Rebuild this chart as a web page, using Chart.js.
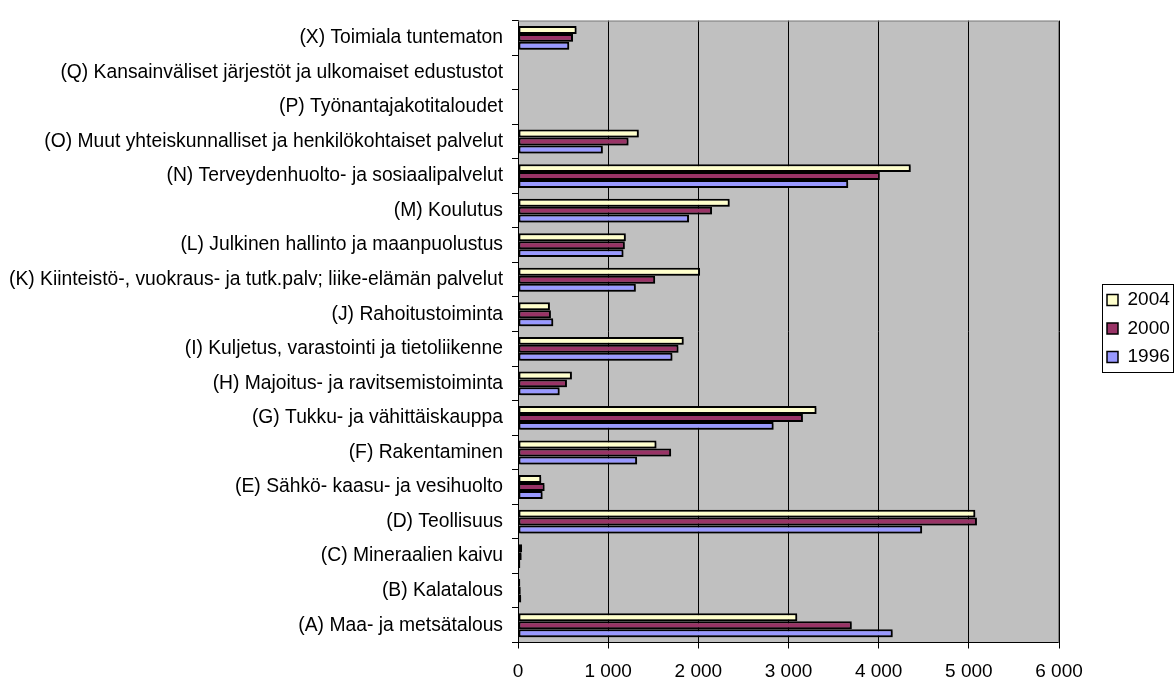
<!DOCTYPE html>
<html>
<head>
<meta charset="utf-8">
<script src="https://cdn.jsdelivr.net/npm/chart.js@4/dist/chart.umd.min.js"></script>
<style>
  html, body { margin: 0; padding: 0; background: #ffffff; }
  #wrap { width: 1176px; height: 681px; position: relative; }
</style>
</head>
<body>
<div id="wrap"><canvas id="c" width="1176" height="681"></canvas></div>
<script>
const categories = [
  "(X) Toimiala tuntematon",
  "(Q) Kansainväliset järjestöt ja ulkomaiset edustustot",
  "(P) Työnantajakotitaloudet",
  "(O) Muut yhteiskunnalliset ja henkilökohtaiset palvelut",
  "(N) Terveydenhuolto- ja sosiaalipalvelut",
  "(M) Koulutus",
  "(L) Julkinen hallinto ja maanpuolustus",
  "(K) Kiinteistö-, vuokraus- ja tutk.palv; liike-elämän palvelut",
  "(J) Rahoitustoiminta",
  "(I) Kuljetus, varastointi ja tietoliikenne",
  "(H) Majoitus- ja ravitsemistoiminta",
  "(G) Tukku- ja vähittäiskauppa",
  "(F) Rakentaminen",
  "(E) Sähkö- kaasu- ja vesihuolto",
  "(D) Teollisuus",
  "(C) Mineraalien kaivu",
  "(B) Kalatalous",
  "(A) Maa- ja metsätalous"
];
const seriesNames = ["2004", "2000", "1996"];
const values2004 = [650, 0, 0, 1340, 4356, 2348, 1196, 2019, 354, 1838, 598, 3311, 1536, 258, 5072, 45, 25, 3097];
const values2000 = [610, 0, 0, 1226, 4013, 2152, 1185, 1521, 365, 1780, 543, 3160, 1698, 295, 5090, 40, 30, 3702];
const values1996 = [568, 0, 0, 941, 3662, 1897, 1170, 1307, 391, 1713, 462, 2835, 1321, 273, 4482, 25, 35, 4156];
const xTicks = [0, 1000, 2000, 3000, 4000, 5000, 6000];

const FONT = "'Liberation Sans', Arial, sans-serif";
const colors = ["#FFFFCC", "#993366", "#9999FF"];

const plotBg = {
  id: 'plotBg',
  beforeDraw(chart) {
    const {ctx, chartArea: a} = chart;
    ctx.save();
    ctx.fillStyle = '#C0C0C0';
    ctx.fillRect(a.left, a.top, a.right - a.left, a.bottom - a.top);
    ctx.restore();
  },
  afterDatasetsDraw(chart) {
    const {ctx, chartArea: a} = chart;
    ctx.save();
    ctx.strokeStyle = '#808080';
    ctx.lineWidth = 1;
    ctx.beginPath();
    ctx.moveTo(a.left, a.top + 0.5);
    ctx.lineTo(a.right - 0.5, a.top + 0.5);
    ctx.lineTo(a.right - 0.5, a.bottom);
    ctx.stroke();
    ctx.restore();
  }
};

const barShadow = {
  id: 'barShadow',
  beforeDatasetDraw(chart) {
    const ctx = chart.ctx;
    ctx.save();
    ctx.shadowColor = 'rgba(0,0,0,0.3)';
    ctx.shadowOffsetX = 2;
    ctx.shadowOffsetY = 2;
    ctx.shadowBlur = 0;
  },
  afterDatasetDraw(chart) {
    chart.ctx.restore();
  }
};

const legendPlace = {
  id: 'legendPlace',
  beforeInit(chart) {
    const lg = chart.legend;
    if (lg) {
      const orig = lg.fit;
      lg.fit = function() { orig.call(this); this.width = 117; };
    }
  },
  afterLayout(chart) {
    const lg = chart.legend;
    lg.left = 1097.5; lg.right = 1174;
    lg.top = 281; lg.bottom = 670; lg.height = lg.bottom - lg.top;
  },
  afterDraw(chart) {
    const ctx = chart.ctx;
    ctx.save();
    ctx.strokeStyle = '#000000';
    ctx.lineWidth = 1;
    ctx.strokeRect(1102.5, 284.5, 71, 88);
    ctx.restore();
  }
};

new Chart(document.getElementById('c'), {
  type: 'bar',
  data: {
    labels: categories,
    datasets: [
      { label: seriesNames[0], data: values2004, backgroundColor: colors[0] },
      { label: seriesNames[1], data: values2000, backgroundColor: colors[1] },
      { label: seriesNames[2], data: values1996, backgroundColor: colors[2] }
    ].map(d => Object.assign(d, {
      borderColor: '#000000', borderWidth: 2, borderSkipped: false,
      categoryPercentage: 0.69, barPercentage: 1.0
    }))
  },
  options: {
    indexAxis: 'y',
    responsive: false,
    animation: false,
    devicePixelRatio: 1,
    layout: { padding: { left: 0, right: 0, top: 13.5, bottom: 0 } },
    plugins: {
      title: { display: false },
      tooltip: { enabled: false },
      legend: {
        position: 'right',
        align: 'start',
        labels: {
          boxWidth: 11, boxHeight: 11, padding: 9.5,
          color: '#000000',
          font: { family: FONT, size: 19 },
          generateLabels(chart) {
            const items = Chart.defaults.plugins.legend.labels.generateLabels(chart);
            items.forEach(it => { it.lineWidth = 1.5; it.strokeStyle = '#000'; });
            return items;
          }
        }
      }
    },
    scales: {
      x: {
        min: 0, max: 6000,
        afterBuildTicks(scale) { scale.ticks = xTicks.map(v => ({ value: v })); },
        ticks: {
          color: '#000000',
          font: { family: FONT, size: 19 },
          padding: 12,
          maxRotation: 0,
          callback(v) { return String(v).replace(/\B(?=(\d{3})+(?!\d))/g, ' '); }
        },
        grid: { color: '#000000', lineWidth: 1, tickLength: 6, tickColor: '#000000' },
        border: { display: true, color: '#000000', width: 1 },
        afterFit(scale) { scale.height = 38.5; }
      },
      y: {
        ticks: {
          color: '#000000',
          font: { family: FONT, size: 19.3 },
          padding: 9,
          autoSkip: false
        },
        grid: { display: true, drawOnChartArea: false, offset: true, tickLength: 6, tickColor: '#000000' },
        border: { display: true, color: '#000000', width: 1 },
        afterFit(scale) { scale.width = 518; }
      }
    }
  },
  plugins: [plotBg, barShadow, legendPlace]
});
</script>
</body>
</html>
